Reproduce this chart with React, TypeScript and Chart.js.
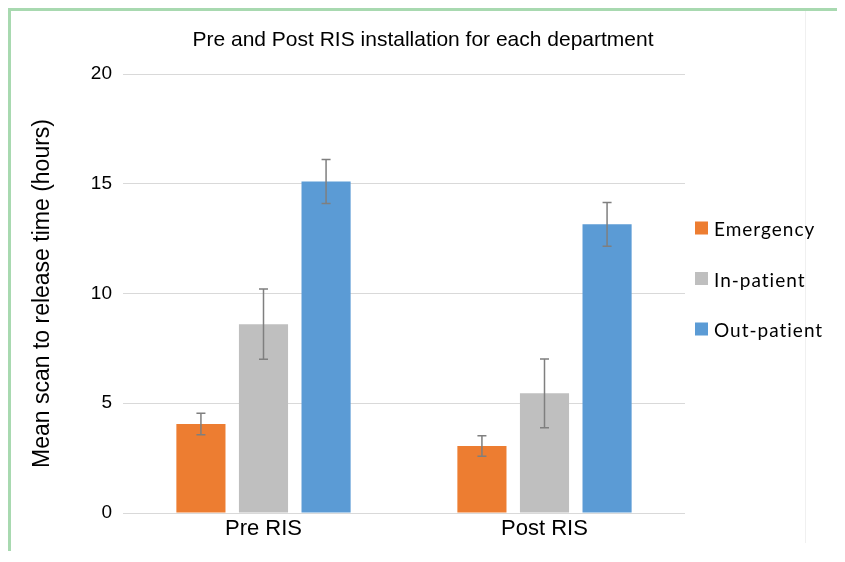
import React, { useEffect, useRef } from 'react';
import { Chart, registerables } from 'chart.js';

Chart.register(...registerables);

const categories = ['Pre RIS', 'Post RIS'];
const seriesNames = ['Emergency', 'In-patient', 'Out-patient'];
const emergency = [4.05, 3.05];
const inPatient = [8.6, 5.45];
const outPatient = [15.1, 13.15];
const emergencyErr = [0.49, 0.47];
const inPatientErr = [1.6, 1.57];
const outPatientErr = [1.0, 1.0];
const yMin = 0;
const yMax = 20;
const yStep = 5;
const chartTitle = 'Pre and Post RIS installation for each department';
const yAxisTitle = 'Mean scan to release time (hours)';
const colors = ['#ED7D31', '#BFBFBF', '#5B9BD5'];

const W = 831;
const H = 540;
const SANS = "'Liberation Sans', Arial, sans-serif";
const LEG = "Lato, 'Open Sans', sans-serif";

const errorBarPlugin = {
  id: 'errorBars',
  afterDatasetsDraw(chart: any) {
    const ctx = chart.ctx;
    const y = chart.scales.y;
    chart.data.datasets.forEach((ds: any, i: number) => {
      const meta = chart.getDatasetMeta(i);
      meta.data.forEach((bar: any, j: number) => {
        const v = ds.data[j];
        const e = ds.errors[j];
        const x = bar.x;
        const yTop = y.getPixelForValue(v + e);
        const yBot = y.getPixelForValue(v - e);
        ctx.save();
        ctx.strokeStyle = '#7f7f7f';
        ctx.lineWidth = 1.5;
        ctx.beginPath();
        ctx.moveTo(x, yTop);
        ctx.lineTo(x, yBot);
        ctx.moveTo(x - 4.5, yTop);
        ctx.lineTo(x + 4.5, yTop);
        ctx.moveTo(x - 4.5, yBot);
        ctx.lineTo(x + 4.5, yBot);
        ctx.stroke();
        ctx.restore();
      });
    });
  },
};

const decorPlugin = {
  id: 'decor',
  beforeDraw(chart: any) {
    const ctx = chart.ctx;
    ctx.save();
    ctx.fillStyle = '#ffffff';
    ctx.fillRect(0, 0, chart.width, chart.height);
    ctx.strokeStyle = '#f0f0f0';
    ctx.lineWidth = 1;
    ctx.beginPath();
    ctx.moveTo(794.5, 0);
    ctx.lineTo(794.5, 532);
    ctx.stroke();
    ctx.restore();
  },
  afterDraw(chart: any) {
    const ctx = chart.ctx;
    ctx.save();
    // title
    ctx.fillStyle = '#000000';
    ctx.font = `21px ${SANS}`;
    ctx.textAlign = 'center';
    ctx.textBaseline = 'alphabetic';
    ctx.fillText(chartTitle, 412, 34.7);
    // legend
    ctx.font = `19px ${LEG}`;
    ctx.textAlign = 'left';
    try { (ctx as any).letterSpacing = '1px'; } catch (e) {}
    chart.data.datasets.forEach((ds: any, i: number) => {
      const cy = 217 + i * 50.5;
      ctx.fillStyle = ds.backgroundColor;
      ctx.fillRect(684, cy - 6.5, 13, 13);
      ctx.fillStyle = '#000000';
      ctx.fillText(ds.label, 703, cy + 8);
    });
    try { (ctx as any).letterSpacing = '0px'; } catch (e) {}
    ctx.restore();
  },
};

export default function App() {
  const ref = useRef<HTMLCanvasElement | null>(null);
  useEffect(() => {
    document.documentElement.style.overflow = 'hidden';
    if (!ref.current) return;
    const seriesValues = [emergency, inPatient, outPatient];
    const seriesErrors = [emergencyErr, inPatientErr, outPatientErr];
    const chart = new Chart(ref.current, {
      type: 'bar',
      data: {
        labels: categories,
        datasets: seriesNames.map((name, i) => ({
          label: name,
          data: seriesValues[i],
          errors: seriesErrors[i],
          backgroundColor: colors[i],
          borderWidth: 0,
          barPercentage: 0.785,
          categoryPercentage: 0.668,
        })) as any,
      },
      options: {
        responsive: false,
        animation: false,
        devicePixelRatio: 1,
        layout: { padding: { left: 0, right: 157, top: 63, bottom: 0 } },
        plugins: {
          legend: { display: false },
          title: { display: false },
          tooltip: { enabled: false },
        },
        scales: {
          x: {
            grid: { display: false, drawTicks: false },
            border: { display: false },
            ticks: {
              color: '#000000',
              font: { family: SANS, size: 22 },
              padding: 3,
            },
            afterFit(scale: any) {
              scale.height = 38;
            },
          },
          y: {
            min: yMin,
            max: yMax,
            grid: { color: '#d9d9d9', lineWidth: 1, drawTicks: false },
            border: { display: false },
            ticks: {
              stepSize: yStep,
              color: '#000000',
              font: { family: SANS, size: 19 },
              padding: 11,
            },
            title: {
              display: true,
              text: yAxisTitle,
              color: '#000000',
              font: { family: SANS, size: 23 },
              padding: { top: 18, bottom: 0 },
            },
            afterFit(scale: any) {
              scale.width = 112;
            },
          },
        },
      },
      plugins: [decorPlugin, errorBarPlugin],
    });
    return () => chart.destroy();
  }, []);

  return (
    <div
      style={{
        width: W,
        height: H,
        borderTop: '3px solid #a8d9b0',
        borderLeft: '3px solid #a8d9b0',
        borderRight: '3px solid #a8d9b0',
        background: '#ffffff',
      }}
    >
      <canvas ref={ref} width={W} height={H} style={{ display: 'block', width: W, height: H }} />
    </div>
  );
}
